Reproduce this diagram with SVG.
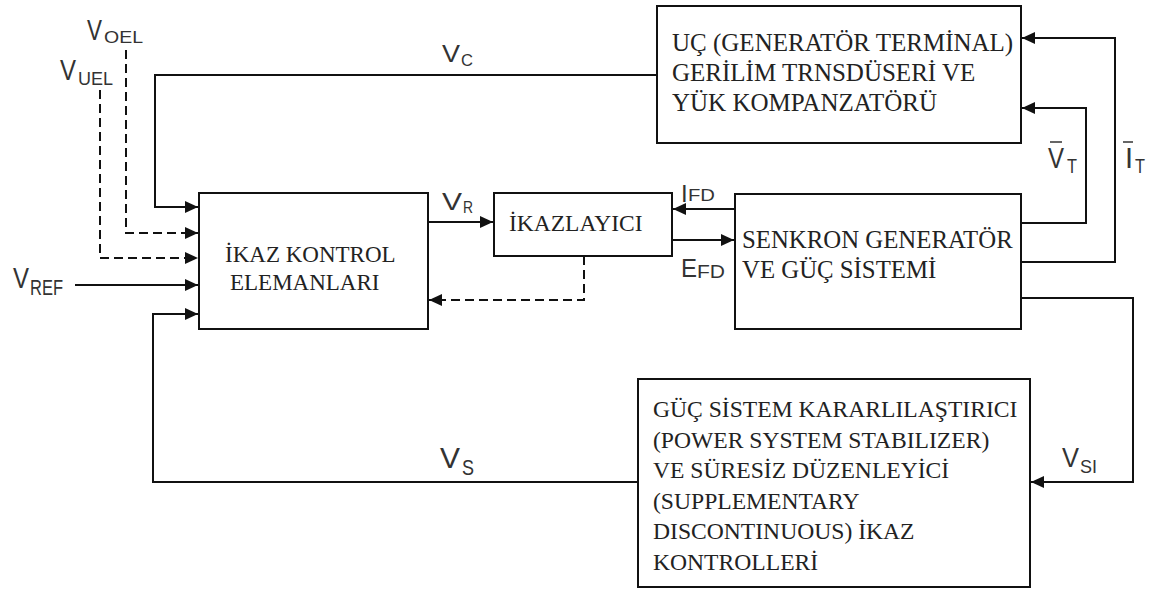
<svg xmlns="http://www.w3.org/2000/svg" width="1150" height="593" viewBox="0 0 1150 593">
<style>
.box{fill:#fff;stroke:#111;stroke-width:2}
.bt{font-family:"Liberation Serif","Times New Roman",serif;fill:#222}
.ln{fill:none;stroke:#111;stroke-width:2}
.dash{stroke-dasharray:9 5}
.lb{font-family:"Liberation Sans",Arial,sans-serif;fill:#333}
</style>
<defs>
<marker id="ah" markerUnits="userSpaceOnUse" markerWidth="14" markerHeight="12" refX="13" refY="6" orient="auto">
<path d="M0,0 L13,6 L0,12 z" fill="#111"/>
</marker>
</defs>
<rect width="1150" height="593" fill="#fff"/>
<g id="connectors">
<path class="ln" d="M657,75 H155 V207 H198" marker-end="url(#ah)"/>
<path class="ln dash" d="M126,50 V233 H198" marker-end="url(#ah)"/>
<path class="ln dash" d="M100,90 V258 H198" marker-end="url(#ah)"/>
<path class="ln" d="M75,285 H198" marker-end="url(#ah)"/>
<path class="ln" d="M638,482 H153 V314 H198" marker-end="url(#ah)"/>
<path class="ln" d="M428,222 H493" marker-end="url(#ah)"/>
<path class="ln" d="M735,209 H673" marker-end="url(#ah)"/>
<path class="ln" d="M672,240 H734" marker-end="url(#ah)"/>
<path class="ln dash" d="M584,256 V300 H429" marker-end="url(#ah)"/>
<path class="ln" d="M1021,223 H1086 V108 H1022" marker-end="url(#ah)"/>
<path class="ln" d="M1021,262 H1115 V38 H1022" marker-end="url(#ah)"/>
<path class="ln" d="M1021,298 H1133 V482 H1031" marker-end="url(#ah)"/>
</g>
<g id="ikaz-kontrol">
<rect class="box" x="199" y="193" width="229" height="136"/>
<text class="bt" x="225" y="262" font-size="23">İKAZ KONTROL</text>
<text class="bt" x="230" y="290" font-size="23">ELEMANLARI</text>
</g>
<g id="ikazlayici">
<rect class="box" x="494" y="193" width="178" height="63"/>
<text class="bt" x="509" y="231" font-size="23.5">İKAZLAYICI</text>
</g>
<g id="senkron">
<rect class="box" x="735" y="194" width="286" height="135"/>
<text class="bt" x="742" y="248" font-size="24.8">SENKRON GENERATÖR</text>
<text class="bt" x="742" y="278" font-size="24.8">VE GÜÇ SİSTEMİ</text>
</g>
<g id="uc">
<rect class="box" x="657" y="6" width="364" height="137"/>
<text class="bt" x="672" y="51" font-size="25">UÇ (GENERATÖR TERMİNAL)</text>
<text class="bt" x="672" y="81" font-size="25">GERİLİM TRNSDÜSERİ VE</text>
<text class="bt" x="672" y="111" font-size="25">YÜK KOMPANZATÖRÜ</text>
</g>
<g id="pss">
<rect class="box" x="638" y="379" width="392" height="208"/>
<text class="bt" x="653" y="417" font-size="23.6">GÜÇ SİSTEM KARARLILAŞTIRICI</text>
<text class="bt" x="653" y="447.6" font-size="23.6">(POWER SYSTEM STABILIZER)</text>
<text class="bt" x="653" y="478.2" font-size="23.6">VE SÜRESİZ DÜZENLEYİCİ</text>
<text class="bt" x="653" y="508.8" font-size="23.6">(SUPPLEMENTARY</text>
<text class="bt" x="653" y="539.4" font-size="23.6">DISCONTINUOUS) İKAZ</text>
<text class="bt" x="653" y="570" font-size="23.6">KONTROLLERİ</text>
</g>
<g id="labels">
<text class="lb" x="87" y="40" font-size="30" textLength="15" lengthAdjust="spacingAndGlyphs">V</text>
<text class="lb" x="104" y="43" font-size="16" textLength="39" lengthAdjust="spacingAndGlyphs">OEL</text>
<text class="lb" x="60" y="80" font-size="30" textLength="16" lengthAdjust="spacingAndGlyphs">V</text>
<text class="lb" x="78" y="85" font-size="18" textLength="35" lengthAdjust="spacingAndGlyphs">UEL</text>
<text class="lb" x="13" y="288" font-size="29" textLength="16" lengthAdjust="spacingAndGlyphs">V</text>
<text class="lb" x="30" y="295" font-size="22" textLength="33" lengthAdjust="spacingAndGlyphs">REF</text>
<text class="lb" x="442" y="62" font-size="24" textLength="18" lengthAdjust="spacingAndGlyphs">V</text>
<text class="lb" x="461" y="66" font-size="17" textLength="12" lengthAdjust="spacingAndGlyphs">C</text>
<text class="lb" x="442" y="210" font-size="24" textLength="20" lengthAdjust="spacingAndGlyphs">V</text>
<text class="lb" x="463" y="213" font-size="17" textLength="10" lengthAdjust="spacingAndGlyphs">R</text>
<text class="lb" x="681" y="202" font-size="24">I</text>
<text class="lb" x="688" y="201" font-size="17" textLength="27" lengthAdjust="spacingAndGlyphs">FD</text>
<text class="lb" x="681" y="277" font-size="26" textLength="16" lengthAdjust="spacingAndGlyphs">E</text>
<text class="lb" x="697" y="278" font-size="18" textLength="28" lengthAdjust="spacingAndGlyphs">FD</text>
<text class="lb" x="1048" y="168" font-size="30" textLength="16" lengthAdjust="spacingAndGlyphs">V</text>
<line x1="1050" y1="142" x2="1062" y2="142" stroke="#333" stroke-width="1.5"/>
<text class="lb" x="1067" y="173" font-size="20" textLength="10" lengthAdjust="spacingAndGlyphs">T</text>
<text class="lb" x="1125" y="168" font-size="29">I</text>
<line x1="1123" y1="142" x2="1133" y2="142" stroke="#333" stroke-width="1.5"/>
<text class="lb" x="1135" y="173" font-size="20" textLength="10" lengthAdjust="spacingAndGlyphs">T</text>
<text class="lb" x="440" y="468" font-size="30" textLength="20" lengthAdjust="spacingAndGlyphs">V</text>
<text class="lb" x="462" y="475" font-size="22" textLength="12" lengthAdjust="spacingAndGlyphs">S</text>
<text class="lb" x="1062" y="467" font-size="28" textLength="17" lengthAdjust="spacingAndGlyphs">V</text>
<text class="lb" x="1080" y="473" font-size="18" textLength="17" lengthAdjust="spacingAndGlyphs">SI</text>
</g>
</svg>
